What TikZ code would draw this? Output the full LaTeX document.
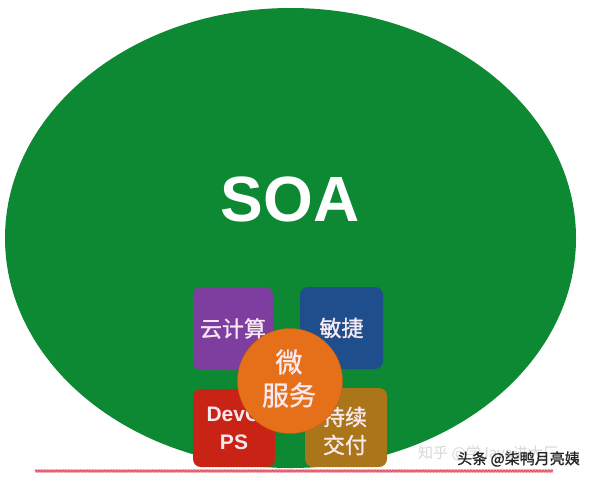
\documentclass[tikz,border=0pt]{standalone}
\usepackage{fontspec}
\setmainfont{Liberation Sans}
\newfontfamily\cjk{Noto Sans CJK SC}
\newfontfamily\cjkb[FakeBold=1.2]{Noto Sans CJK SC}
\usetikzlibrary{decorations.pathmorphing,shapes.geometric}
\definecolor{soagreen}{RGB}{12,137,50}
\definecolor{cpurple}{RGB}{125,62,160}
\definecolor{cblue}{RGB}{30,78,140}
\definecolor{cred}{RGB}{200,35,20}
\definecolor{cgold}{RGB}{170,118,25}
\definecolor{corange}{RGB}{230,112,25}
\definecolor{ctext}{RGB}{248,232,240}
\definecolor{cline}{RGB}{225,80,95}
\definecolor{wmlight}{RGB}{215,215,215}
\tikzset{
  tile/.style={rounded corners=8pt, inner sep=0pt, align=center, text=ctext},
  cjktext/.style={font=\cjkb\fontsize{22}{28}\selectfont},
  boldtext/.style={font=\bfseries\fontsize{21}{28}\selectfont},
}
\begin{document}
\begin{tikzpicture}[x=1pt,y=-1pt]
\useasboundingbox[fill=white] (0,0) rectangle (593,480);
% big ellipse
\node[ellipse, fill=soagreen, minimum width=571pt, minimum height=460pt, inner sep=0pt] (soa) at (290.5,238) {};
\node[text=white, font=\bfseries\fontsize{64}{64}\selectfont] (soatext) at (290,199) {SOA};
% wavy underline
\coordinate (ul) at (35,471);
\coordinate (ur) at (553,471);
\draw[cline!35, line width=4pt] (ul) -- (ur);
\draw[cline, line width=1.2pt, decorate, decoration={snake, amplitude=0.7pt, segment length=3pt}] (ul) -- (ur);
% tiles
\node[tile, fill=cpurple, minimum width=80pt, minimum height=83pt, cjktext] (cloud) at (233,328.5) {云计算};
\node[tile, fill=cblue, minimum width=83pt, minimum height=82pt, cjktext] (agile) at (341.5,328) {敏捷};
\node[tile, fill=cred, minimum width=82pt, minimum height=78pt, boldtext] (devops) at (234,428) {DevO\\PS};
\node[tile, fill=cgold, minimum width=82pt, minimum height=79pt, cjktext] (cd) at (346,427.5) {};
\node[text=ctext, align=center, cjktext] (cdtext) at (345,431) {持续\\交付};
% central circle
\node[circle, fill=corange, minimum size=105pt, inner sep=0pt, draw=corange!85!black, line width=0.4pt] (micro) at (290,381) {};
\node[text=ctext, align=center, font=\cjkb\fontsize{27}{33}\selectfont] (microtext) at (289,378.5) {微\\服务};
% watermarks
\node[anchor=west, text=wmlight, font=\cjk\fontsize{15}{15}\selectfont, inner sep=0pt] (wm1) at (418,453) {知乎 @学Java进大厂};
\node[anchor=west, text=black!85, font=\cjkb\fontsize{15}{15}\selectfont, inner sep=0pt] (wm2) at (457,459) {头条 @柒鸭月亮姨};
\end{tikzpicture}
\end{document}
